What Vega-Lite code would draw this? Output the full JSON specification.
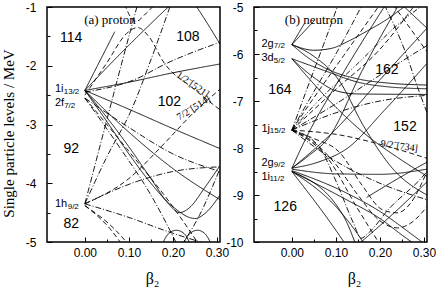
{
"$schema":"https://vega.github.io/schema/vega-lite/v6.json",
"padding":{"left":0,"top":0,"right":5,"bottom":0},
"spacing":34,
"bounds":"flush",
"config":{
 "view":{"stroke":"black","strokeWidth":1.5},
 "axis":{"grid":false,"domain":false,"tickColor":"black","tickWidth":1,"labelColor":"black","labelFont":"Liberation Sans","labelFontSize":12,"titleFont":"Liberation Serif","titleFontWeight":"normal","titleColor":"black"},
 "text":{"color":"black"}
},
"datasets":{
"pl":[
{"id":"a1","s":"solid","b":0,"e":-2.42},{"id":"a1","s":"solid","b":0.068,"e":-1.42},
{"id":"a2","s":"solid","b":0,"e":-2.42},{"id":"a2","s":"solid","b":0.1,"e":-1.65},{"id":"a2","s":"solid","b":0.195,"e":-0.96},
{"id":"a3","s":"solid","b":0,"e":-2.42},{"id":"a3","s":"solid","b":0.1,"e":-2.28},{"id":"a3","s":"solid","b":0.2,"e":-2.12},{"id":"a3","s":"solid","b":0.307,"e":-1.97},
{"id":"a4","s":"solid","b":0,"e":-2.42},{"id":"a4","s":"solid","b":0.1,"e":-2.74},{"id":"a4","s":"solid","b":0.2,"e":-3.07},{"id":"a4","s":"solid","b":0.307,"e":-3.41},
{"id":"a5","s":"solid","b":0,"e":-2.42},{"id":"a5","s":"solid","b":0.1,"e":-3.13},{"id":"a5","s":"solid","b":0.2,"e":-3.75},{"id":"a5","s":"solid","b":0.307,"e":-4.28},
{"id":"a6","s":"solid","b":0,"e":-2.42},{"id":"a6","s":"solid","b":0.05,"e":-2.88},{"id":"a6","s":"solid","b":0.1,"e":-3.38},{"id":"a6","s":"solid","b":0.15,"e":-3.92},{"id":"a6","s":"solid","b":0.19,"e":-4.35},{"id":"a6","s":"solid","b":0.215,"e":-4.5},{"id":"a6","s":"solid","b":0.24,"e":-4.4},{"id":"a6","s":"solid","b":0.27,"e":-4.1},{"id":"a6","s":"solid","b":0.307,"e":-3.7},
{"id":"a7","s":"solid","b":0,"e":-2.42},{"id":"a7","s":"solid","b":0.05,"e":-2.95},{"id":"a7","s":"solid","b":0.1,"e":-3.5},{"id":"a7","s":"solid","b":0.15,"e":-4.0},{"id":"a7","s":"solid","b":0.2,"e":-4.4},{"id":"a7","s":"solid","b":0.25,"e":-4.6},{"id":"a7","s":"solid","b":0.275,"e":-4.5},{"id":"a7","s":"solid","b":0.307,"e":-4.2},
{"id":"a8","s":"solid","b":0.175,"e":-5.05},{"id":"a8","s":"solid","b":0.19,"e":-4.86},{"id":"a8","s":"solid","b":0.208,"e":-4.8},{"id":"a8","s":"solid","b":0.226,"e":-4.86},{"id":"a8","s":"solid","b":0.24,"e":-5.05},
{"id":"a9","s":"solid","b":0.222,"e":-5.05},{"id":"a9","s":"solid","b":0.238,"e":-4.86},{"id":"a9","s":"solid","b":0.256,"e":-4.8},{"id":"a9","s":"solid","b":0.273,"e":-4.86},{"id":"a9","s":"solid","b":0.288,"e":-5.05},
{"id":"a10","s":"solid","b":0.25,"e":-0.95},{"id":"a10","s":"solid","b":0.28,"e":-1.3},{"id":"a10","s":"solid","b":0.307,"e":-1.63},
{"id":"a11","s":"dash","b":0,"e":-2.5},{"id":"a11","s":"dash","b":0.05,"e":-1.95},{"id":"a11","s":"dash","b":0.095,"e":-1.45},{"id":"a11","s":"dash","b":0.12,"e":-1.35},{"id":"a11","s":"dash","b":0.145,"e":-1.5},{"id":"a11","s":"dash","b":0.18,"e":-1.95},{"id":"a11","s":"dash","b":0.245,"e":-2.38},{"id":"a11","s":"dash","b":0.307,"e":-2.75},
{"id":"a12","s":"dash","b":0,"e":-4.35},{"id":"a12","s":"dash","b":0.1,"e":-3.92},{"id":"a12","s":"dash","b":0.177,"e":-3.35},{"id":"a12","s":"dash","b":0.247,"e":-2.8},{"id":"a12","s":"dash","b":0.307,"e":-2.4},
{"id":"a13","s":"dashdot","b":0,"e":-4.35},{"id":"a13","s":"dashdot","b":0.05,"e":-2.92},{"id":"a13","s":"dashdot","b":0.1,"e":-1.5},{"id":"a13","s":"dashdot","b":0.12,"e":-0.95},
{"id":"a14","s":"dashdot","b":0,"e":-4.35},{"id":"a14","s":"dashdot","b":0.05,"e":-3.55},{"id":"a14","s":"dashdot","b":0.107,"e":-2.73},{"id":"a14","s":"dashdot","b":0.15,"e":-1.9},{"id":"a14","s":"dashdot","b":0.195,"e":-0.96},
{"id":"a15","s":"dashdot","b":0,"e":-4.35},{"id":"a15","s":"dashdot","b":0.118,"e":-3.97},{"id":"a15","s":"dashdot","b":0.2,"e":-3.8},{"id":"a15","s":"dashdot","b":0.307,"e":-3.72},
{"id":"a16","s":"dashdot","b":0,"e":-4.35},{"id":"a16","s":"dashdot","b":0.107,"e":-4.6},{"id":"a16","s":"dashdot","b":0.18,"e":-4.8},{"id":"a16","s":"dashdot","b":0.307,"e":-5.1},
{"id":"a17","s":"dash","b":0,"e":-4.38},{"id":"a17","s":"dash","b":0.06,"e":-4.8},{"id":"a17","s":"dash","b":0.085,"e":-5.05},
{"id":"a18","s":"dash","b":0,"e":-4.38},{"id":"a18","s":"dash","b":0.07,"e":-4.8},{"id":"a18","s":"dash","b":0.1,"e":-5.05},
{"id":"a19","s":"dash","b":0,"e":-2.55},{"id":"a19","s":"dash","b":0.095,"e":-3.41},{"id":"a19","s":"dash","b":0.2,"e":-4.4},{"id":"a19","s":"dash","b":0.26,"e":-5.05},
{"id":"a20","s":"dashdot","b":0,"e":-2.55},{"id":"a20","s":"dashdot","b":0.08,"e":-3.4},{"id":"a20","s":"dashdot","b":0.15,"e":-4.2},{"id":"a20","s":"dashdot","b":0.2,"e":-4.9},{"id":"a20","s":"dashdot","b":0.21,"e":-5.05},
{"id":"a21","s":"dashdot","b":0,"e":-2.45},{"id":"a21","s":"dashdot","b":0.118,"e":-2.22},{"id":"a21","s":"dashdot","b":0.18,"e":-1.98},{"id":"a21","s":"dashdot","b":0.307,"e":-1.6},
{"id":"a22","s":"dashdot","b":0,"e":-2.55},{"id":"a22","s":"dashdot","b":0.1,"e":-3.05},{"id":"a22","s":"dashdot","b":0.2,"e":-3.5},{"id":"a22","s":"dashdot","b":0.307,"e":-3.8},
{"id":"a23","s":"dashdot","b":0.22,"e":-5.05},{"id":"a23","s":"dashdot","b":0.26,"e":-4.55},{"id":"a23","s":"dashdot","b":0.307,"e":-3.75},
{"id":"a24","s":"dash","b":0.09,"e":-0.95},{"id":"a24","s":"dash","b":0.115,"e":-1.25},{"id":"a24","s":"dash","b":0.14,"e":-1.1},{"id":"a24","s":"dash","b":0.16,"e":-0.95}
],
"nl":[
{"id":"b1","s":"solid","b":0,"e":-5.8},{"id":"b1","s":"solid","b":0.05,"e":-5.3},
{"id":"b2","s":"solid","b":0,"e":-5.8},{"id":"b2","s":"solid","b":0.028,"e":-5.36},
{"id":"b3","s":"solid","b":0,"e":-5.8},{"id":"b3","s":"solid","b":0.05,"e":-5.92},{"id":"b3","s":"solid","b":0.09,"e":-5.88},{"id":"b3","s":"solid","b":0.13,"e":-5.72},{"id":"b3","s":"solid","b":0.173,"e":-5.5},{"id":"b3","s":"solid","b":0.21,"e":-5.3},{"id":"b3","s":"solid","b":0.26,"e":-4.96},
{"id":"b4","s":"solid","b":0,"e":-5.8},{"id":"b4","s":"solid","b":0.04,"e":-6.1},{"id":"b4","s":"solid","b":0.08,"e":-6.32},{"id":"b4","s":"solid","b":0.15,"e":-6.53},{"id":"b4","s":"solid","b":0.22,"e":-6.62},{"id":"b4","s":"solid","b":0.307,"e":-6.66},
{"id":"b5","s":"solid","b":0,"e":-6.1},{"id":"b5","s":"solid","b":0.082,"e":-6.38},{"id":"b5","s":"solid","b":0.15,"e":-6.6},{"id":"b5","s":"solid","b":0.22,"e":-6.7},{"id":"b5","s":"solid","b":0.307,"e":-6.74},
{"id":"b6","s":"solid","b":0,"e":-6.1},{"id":"b6","s":"solid","b":0.05,"e":-6.5},{"id":"b6","s":"solid","b":0.1,"e":-6.78},{"id":"b6","s":"solid","b":0.15,"e":-6.85},{"id":"b6","s":"solid","b":0.307,"e":-6.86},
{"id":"b7","s":"solid","b":0,"e":-6.1},{"id":"b7","s":"solid","b":0.086,"e":-7.0},{"id":"b7","s":"solid","b":0.17,"e":-7.73},{"id":"b7","s":"solid","b":0.24,"e":-8.2},{"id":"b7","s":"solid","b":0.307,"e":-8.6},
{"id":"b8","s":"solid","b":0,"e":-5.8},{"id":"b8","s":"solid","b":0.05,"e":-6.05},{"id":"b8","s":"solid","b":0.107,"e":-6.56},{"id":"b8","s":"solid","b":0.164,"e":-7.55},{"id":"b8","s":"solid","b":0.232,"e":-8.47},{"id":"b8","s":"solid","b":0.307,"e":-9.0},
{"id":"b9","s":"solid","b":0,"e":-8.43},{"id":"b9","s":"solid","b":0.029,"e":-7.85},{"id":"b9","s":"solid","b":0.12,"e":-6.35},{"id":"b9","s":"solid","b":0.213,"e":-4.95},
{"id":"b10","s":"solid","b":0,"e":-8.43},{"id":"b10","s":"solid","b":0.04,"e":-8.15},{"id":"b10","s":"solid","b":0.082,"e":-7.8},{"id":"b10","s":"solid","b":0.16,"e":-6.35},{"id":"b10","s":"solid","b":0.243,"e":-4.95},
{"id":"b11","s":"solid","b":0,"e":-8.43},{"id":"b11","s":"solid","b":0.06,"e":-8.3},{"id":"b11","s":"solid","b":0.127,"e":-8.0},{"id":"b11","s":"solid","b":0.21,"e":-7.2},{"id":"b11","s":"solid","b":0.307,"e":-6.2},
{"id":"b12","s":"solid","b":0,"e":-8.43},{"id":"b12","s":"solid","b":0.1,"e":-7.6},{"id":"b12","s":"solid","b":0.2,"e":-6.55},{"id":"b12","s":"solid","b":0.307,"e":-5.45},
{"id":"b13","s":"solid","b":0,"e":-8.45},{"id":"b13","s":"solid","b":0.1,"e":-8.55},{"id":"b13","s":"solid","b":0.2,"e":-8.56},{"id":"b13","s":"solid","b":0.307,"e":-8.45},
{"id":"b14","s":"solid","b":0,"e":-8.48},{"id":"b14","s":"solid","b":0.118,"e":-8.93},{"id":"b14","s":"solid","b":0.2,"e":-9.35},{"id":"b14","s":"solid","b":0.27,"e":-9.82},{"id":"b14","s":"solid","b":0.307,"e":-10.08},
{"id":"b15","s":"solid","b":0,"e":-8.5},{"id":"b15","s":"solid","b":0.118,"e":-9.07},{"id":"b15","s":"solid","b":0.2,"e":-9.5},{"id":"b15","s":"solid","b":0.26,"e":-9.92},{"id":"b15","s":"solid","b":0.28,"e":-10.05},
{"id":"b16","s":"solid","b":0,"e":-8.5},{"id":"b16","s":"solid","b":0.107,"e":-9.32},{"id":"b16","s":"solid","b":0.156,"e":-9.92},{"id":"b16","s":"solid","b":0.165,"e":-10.05},
{"id":"b17","s":"solid","b":0,"e":-8.5},{"id":"b17","s":"solid","b":0.118,"e":-9.46},{"id":"b17","s":"solid","b":0.145,"e":-10.05},
{"id":"b18","s":"solid","b":0,"e":-8.5},{"id":"b18","s":"solid","b":0.1,"e":-9.75},{"id":"b18","s":"solid","b":0.122,"e":-10.05},
{"id":"b19","s":"solid","b":0.155,"e":-10.02},{"id":"b19","s":"solid","b":0.23,"e":-9.4},{"id":"b19","s":"solid","b":0.307,"e":-8.72},
{"id":"b20","s":"solid","b":0.25,"e":-4.95},{"id":"b20","s":"solid","b":0.307,"e":-5.45},
{"id":"b21","s":"solid","b":0.17,"e":-9.05},{"id":"b21","s":"solid","b":0.243,"e":-8.64},{"id":"b21","s":"solid","b":0.307,"e":-8.3},
{"id":"b22","s":"dash","b":0,"e":-7.62},{"id":"b22","s":"dash","b":0.107,"e":-7.72},{"id":"b22","s":"dash","b":0.2,"e":-7.92},{"id":"b22","s":"dash","b":0.307,"e":-8.22},
{"id":"b23","s":"dash","b":0,"e":-7.62},{"id":"b23","s":"dash","b":0.028,"e":-7.23},{"id":"b23","s":"dash","b":0.118,"e":-6.03},{"id":"b23","s":"dash","b":0.2,"e":-4.95},
{"id":"b24","s":"dashdot","b":0,"e":-7.62},{"id":"b24","s":"dashdot","b":0.05,"e":-6.8},{"id":"b24","s":"dashdot","b":0.1,"e":-6.0},{"id":"b24","s":"dashdot","b":0.16,"e":-4.95},
{"id":"b25","s":"dash","b":0,"e":-7.62},{"id":"b25","s":"dash","b":0.1,"e":-6.75},{"id":"b25","s":"dash","b":0.2,"e":-5.9},{"id":"b25","s":"dash","b":0.28,"e":-4.95},
{"id":"b26","s":"dashdot","b":0,"e":-7.62},{"id":"b26","s":"dashdot","b":0.107,"e":-7.02},{"id":"b26","s":"dashdot","b":0.2,"e":-6.45},{"id":"b26","s":"dashdot","b":0.307,"e":-5.82},
{"id":"b27","s":"dashdot","b":0,"e":-7.62},{"id":"b27","s":"dashdot","b":0.107,"e":-7.23},{"id":"b27","s":"dashdot","b":0.2,"e":-7.0},{"id":"b27","s":"dashdot","b":0.307,"e":-6.88},
{"id":"b28","s":"dashdot","b":0,"e":-7.62},{"id":"b28","s":"dashdot","b":0.06,"e":-7.95},{"id":"b28","s":"dashdot","b":0.1,"e":-8.7},{"id":"b28","s":"dashdot","b":0.14,"e":-9.6},{"id":"b28","s":"dashdot","b":0.157,"e":-9.92},{"id":"b28","s":"dashdot","b":0.175,"e":-9.8},{"id":"b28","s":"dashdot","b":0.22,"e":-9.3},{"id":"b28","s":"dashdot","b":0.293,"e":-8.65},{"id":"b28","s":"dashdot","b":0.307,"e":-8.5},
{"id":"b29","s":"dash","b":0,"e":-7.62},{"id":"b29","s":"dash","b":0.05,"e":-7.8},{"id":"b29","s":"dash","b":0.107,"e":-8.08},{"id":"b29","s":"dash","b":0.16,"e":-8.8},{"id":"b29","s":"dash","b":0.205,"e":-9.31},{"id":"b29","s":"dash","b":0.239,"e":-9.38},{"id":"b29","s":"dash","b":0.27,"e":-9.17},{"id":"b29","s":"dash","b":0.307,"e":-8.5},
{"id":"b30","s":"dash","b":0,"e":-7.62},{"id":"b30","s":"dash","b":0.05,"e":-7.88},{"id":"b30","s":"dash","b":0.1,"e":-8.35},{"id":"b30","s":"dash","b":0.15,"e":-9.0},{"id":"b30","s":"dash","b":0.2,"e":-9.55},{"id":"b30","s":"dash","b":0.24,"e":-9.7},{"id":"b30","s":"dash","b":0.27,"e":-9.6},{"id":"b30","s":"dash","b":0.307,"e":-9.25},
{"id":"b31","s":"dash","b":0,"e":-7.62},{"id":"b31","s":"dash","b":0.08,"e":-8.2},{"id":"b31","s":"dash","b":0.15,"e":-9.3},{"id":"b31","s":"dash","b":0.2,"e":-10.05},
{"id":"b32","s":"dashdot","b":0,"e":-7.62},{"id":"b32","s":"dashdot","b":0.107,"e":-8.32},{"id":"b32","s":"dashdot","b":0.2,"e":-8.75},{"id":"b32","s":"dashdot","b":0.307,"e":-9.1},
{"id":"b33","s":"dashdot","b":0.21,"e":-4.95},{"id":"b33","s":"dashdot","b":0.258,"e":-5.96},{"id":"b33","s":"dashdot","b":0.288,"e":-6.77},{"id":"b33","s":"dashdot","b":0.307,"e":-7.25},
{"id":"b34","s":"dash","b":0.23,"e":-4.95},{"id":"b34","s":"dash","b":0.307,"e":-5.95},
{"id":"b35","s":"dashdot","b":0,"e":-7.62},{"id":"b35","s":"dashdot","b":0.04,"e":-6.6},{"id":"b35","s":"dashdot","b":0.08,"e":-5.6},{"id":"b35","s":"dashdot","b":0.105,"e":-4.95},
{"id":"b36","s":"dashdotdot","b":0,"e":-7.62},{"id":"b36","s":"dashdotdot","b":0.06,"e":-7.0},{"id":"b36","s":"dashdotdot","b":0.15,"e":-6.2},{"id":"b36","s":"dashdotdot","b":0.25,"e":-5.3},{"id":"b36","s":"dashdotdot","b":0.307,"e":-4.9}
],
"pmain":[{"t":"1i","b":-0.068,"e":-2.4},{"t":"2f","b":-0.068,"e":-2.64},{"t":"1h","b":-0.068,"e":-4.35}],
"psub":[{"t":"13/2","b":-0.048,"e":-2.44},{"t":"7/2","b":-0.047,"e":-2.68},{"t":"9/2","b":-0.039,"e":-4.4}],
"pnum":[{"t":"114","b":-0.031,"e":-1.52},{"t":"108","b":0.234,"e":-1.51},{"t":"102","b":0.192,"e":-2.61},{"t":"92","b":-0.031,"e":-3.41},{"t":"82","b":-0.031,"e":-4.69}],
"nmain":[{"t":"2g","b":-0.069,"e":-5.79},{"t":"3d","b":-0.069,"e":-6.09},{"t":"1j","b":-0.069,"e":-7.59},{"t":"2g","b":-0.069,"e":-8.31},{"t":"1i","b":-0.069,"e":-8.62}],
"nsub":[{"t":"7/2","b":-0.041,"e":-5.84},{"t":"5/2","b":-0.041,"e":-6.14},{"t":"15/2","b":-0.05,"e":-7.64},{"t":"9/2","b":-0.041,"e":-8.36},{"t":"11/2","b":-0.051,"e":-8.67}],
"nnum":[{"t":"164","b":-0.027,"e":-6.77},{"t":"162","b":0.216,"e":-6.34},{"t":"152","b":0.257,"e":-7.55},{"t":"126","b":-0.015,"e":-9.26}]
},
"hconcat":[
{
 "width":173,"height":235,
 "encoding":{
  "x":{"field":"b","type":"quantitative","scale":{"domain":[-0.086,0.307],"nice":false,"zero":false},
   "axis":{"title":"β₂","titleFontSize":16,"titleX":105,"titlePadding":12,"values":[0,0.05,0.1,0.15,0.2,0.25,0.3],
    "labelExpr":"round(datum.value*20)%2==0 ? format(datum.value,'.2f') : ''",
    "tickSize":{"condition":{"test":"round(datum.value*20)%2==0","value":-5},"value":-3},"labelPadding":10}},
  "y":{"field":"e","type":"quantitative","scale":{"domain":[-5,-1],"nice":false,"zero":false},
   "axis":{"title":"Single particle levels / MeV","titleFontSize":15,"titleX":-31,"titleY":126,"values":[-5,-4.5,-4,-3.5,-3,-2.5,-2,-1.5,-1],
    "labelExpr":"datum.value%1==0 ? ''+datum.value : ''",
    "tickSize":{"condition":{"test":"datum.value%1==0","value":-5},"value":-3},"labelPadding":16}}
 },
 "layer":[
  {"data":{"name":"pl"},"mark":{"type":"line","clip":true,"interpolate":"monotone","strokeWidth":0.9,"color":"black"},
   "encoding":{"detail":{"field":"id"},"strokeDash":{"field":"s","type":"nominal","legend":null,
    "scale":{"domain":["solid","dash","dashdot","dashdotdot"],"range":[[1,0],[5,3],[6,2,1,2],[5,2,1,2,1,2]]}}}},
  {"data":{"name":"pmain"},"mark":{"type":"text","align":"left","baseline":"middle","font":"Liberation Sans","fontSize":11},"encoding":{"text":{"field":"t"}}},
  {"data":{"name":"psub"},"mark":{"type":"text","align":"left","baseline":"middle","font":"Liberation Sans","fontSize":8},"encoding":{"text":{"field":"t"}}},
  {"data":{"name":"pnum"},"mark":{"type":"text","align":"center","baseline":"middle","font":"Liberation Sans","fontSize":14},"encoding":{"text":{"field":"t"}}},
  {"data":{"values":[{"t":"(a) proton","b":0.057,"e":-1.22}]},"mark":{"type":"text","align":"center","baseline":"middle","font":"Liberation Serif","fontSize":13},"encoding":{"text":{"field":"t"}}},
  {"data":{"values":[{"t":"1/2⁻[521]","b":0.245,"e":-2.32}]},"mark":{"type":"text","align":"center","baseline":"middle","font":"Liberation Serif","fontSize":10,"angle":35},"encoding":{"text":{"field":"t"}}},
  {"data":{"values":[{"t":"7/2⁻[514]","b":0.247,"e":-2.72}]},"mark":{"type":"text","align":"center","baseline":"middle","font":"Liberation Serif","fontSize":10,"angle":-32},"encoding":{"text":{"field":"t"}}}
 ]
},
{
 "width":173,"height":235,
 "encoding":{
  "x":{"field":"b","type":"quantitative","scale":{"domain":[-0.086,0.307],"nice":false,"zero":false},
   "axis":{"title":"β₂","titleFontSize":16,"titleX":100,"titlePadding":12,"values":[0,0.05,0.1,0.15,0.2,0.25,0.3],
    "labelExpr":"round(datum.value*20)%2==0 ? format(datum.value,'.2f') : ''",
    "tickSize":{"condition":{"test":"round(datum.value*20)%2==0","value":-5},"value":-3},"labelPadding":10}},
  "y":{"field":"e","type":"quantitative","scale":{"domain":[-10,-5],"nice":false,"zero":false},
   "axis":{"title":null,"values":[-10,-9.5,-9,-8.5,-8,-7.5,-7,-6.5,-6,-5.5,-5],
    "labelExpr":"datum.value%1==0 ? ''+datum.value : ''",
    "tickSize":{"condition":{"test":"datum.value%1==0","value":-5},"value":-3},"labelPadding":16}}
 },
 "layer":[
  {"data":{"name":"nl"},"mark":{"type":"line","clip":true,"interpolate":"monotone","strokeWidth":0.9,"color":"black"},
   "encoding":{"detail":{"field":"id"},"strokeDash":{"field":"s","type":"nominal","legend":null,
    "scale":{"domain":["solid","dash","dashdot","dashdotdot"],"range":[[1,0],[5,3],[6,2,1,2],[5,2,1,2,1,2]]}}}},
  {"data":{"name":"nmain"},"mark":{"type":"text","align":"left","baseline":"middle","font":"Liberation Sans","fontSize":11},"encoding":{"text":{"field":"t"}}},
  {"data":{"name":"nsub"},"mark":{"type":"text","align":"left","baseline":"middle","font":"Liberation Sans","fontSize":8},"encoding":{"text":{"field":"t"}}},
  {"data":{"name":"nnum"},"mark":{"type":"text","align":"center","baseline":"middle","font":"Liberation Sans","fontSize":14},"encoding":{"text":{"field":"t"}}},
  {"data":{"values":[{"t":"(b) neutron","b":0.05,"e":-5.28}]},"mark":{"type":"text","align":"center","baseline":"middle","font":"Liberation Serif","fontSize":13},"encoding":{"text":{"field":"t"}}},
  {"data":{"values":[{"t":"9/2⁻[734]","b":0.244,"e":-7.96}]},"mark":{"type":"text","align":"center","baseline":"middle","font":"Liberation Serif","fontSize":10,"angle":8},"encoding":{"text":{"field":"t"}}}
 ]
}
]
}
